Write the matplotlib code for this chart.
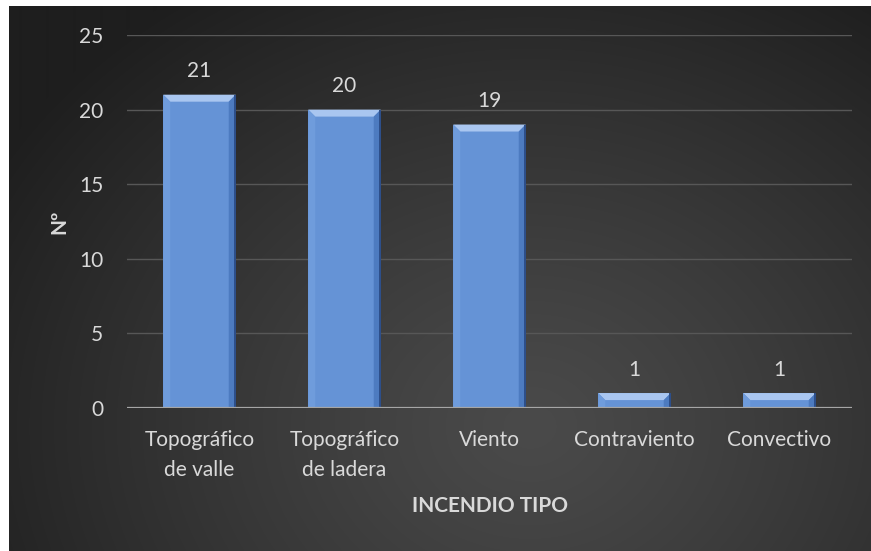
import numpy as np
import matplotlib
matplotlib.use("Agg")
import matplotlib.pyplot as plt
from matplotlib.patches import Polygon

categories = ["Topográfico\nde valle", "Topográfico\nde ladera", "Viento", "Contraviento", "Convectivo"]
counts = [21, 20, 19, 1, 1]
y_ticks = [0, 5, 10, 15, 20, 25]

W, H = 871, 551
fig = plt.figure(figsize=(W / 100, H / 100), dpi=100)
fig.patch.set_facecolor("white")
plt.rcParams["font.family"] = ["Lato", "DejaVu Sans"]
TXT = "#d9d9d9"
FS = 15

# dark panel with a soft radial glow
bg = fig.add_axes([9 / W, 0, 1 - 9 / W, 1 - 6 / H])
bg.set_axis_off()
yy, xx = np.mgrid[0:545, 0:862]
cx, cy = 520, 420
r = np.sqrt(((xx - cx) / 620) ** 2 + ((yy - cy) / 520) ** 2)
t = np.clip(r, 0, 1)
c_in, c_out = 0x4a / 255, 0x1e / 255
val = c_in + (c_out - c_in) * t ** 1.2
img = np.dstack([val, val, val])
bg.imshow(img, aspect="auto", extent=[0, 1, 0, 1], origin="upper", interpolation="bilinear")
bg.set_xlim(0, 1)
bg.set_ylim(0, 1)

# chart axes
ax_l, ax_t, ax_r, ax_b = 127, 35, 852, 408
ax = fig.add_axes([ax_l / W, 1 - ax_b / H, (ax_r - ax_l) / W, (ax_b - ax_t) / H])
ax.set_facecolor("none")
x = np.arange(len(categories))
ax.set_xlim(-0.5, len(categories) - 0.5)
ax.set_ylim(0, 25)

for v in y_ticks[1:]:
    ax.axhline(v, color="#575757", lw=1.0, zorder=0)
ax.axhline(0, color="#a6a6a6", lw=1.6, zorder=3)

bars = ax.bar(x, counts, width=0.5, color="#6593d6", edgecolor="none", zorder=2)

# bevelled edges on each bar, sized in pixels
to_data = ax.transData.inverted()
for b in bars:
    x0, y0 = b.get_x(), b.get_y()
    x1, y1 = x0 + b.get_width(), y0 + b.get_height()
    (px0, py0) = ax.transData.transform((x0, y0))
    (px1, py1) = ax.transData.transform((x1, y1))
    bw = 7
    bh = min(7, (py1 - py0) / 2)

    def poly(pts, color):
        d = to_data.transform(pts)
        ax.add_patch(Polygon(d, closed=True, facecolor=color, edgecolor="none", zorder=2.5))

    # top bevel
    poly([(px0, py1), (px1, py1), (px1 - bw, py1 - bh), (px0 + bw, py1 - bh)], "#a9c6f0")
    # left bevel
    poly([(px0, py1), (px0 + bw, py1 - bh), (px0 + bw, py0), (px0, py0)], "#6f9cdc")
    # right bevel
    poly([(px1, py1), (px1 - bw, py1 - bh), (px1 - bw, py0), (px1, py0)], "#4d7bc0")
    # thin dark outline on the right side
    poly([(px1 - 1.5, py1), (px1, py1), (px1, py0), (px1 - 1.5, py0)], "#2d4f8a")

for xi, v in zip(x, counts):
    ax.annotate(str(v), (xi, v), xytext=(0, 12.5), textcoords="offset points",
                ha="center", va="baseline", color=TXT, fontsize=FS)

ax.set_yticks(y_ticks)
ax.set_yticklabels([str(v) for v in y_ticks], color=TXT, fontsize=FS)
ax.set_xticks(x)
ax.set_xticklabels(categories, color=TXT, fontsize=FS, linespacing=1.6)
ax.tick_params(axis="both", length=0)
ax.tick_params(axis="y", pad=17)
ax.tick_params(axis="x", pad=16)
for s in ax.spines.values():
    s.set_visible(False)

ax.set_ylabel("Nº", color=TXT, fontsize=FS, fontweight="bold")
ax.yaxis.set_label_coords((69 - ax_l) / (ax_r - ax_l), 0.5)
ax.set_xlabel("INCENDIO TIPO", color=TXT, fontsize=FS, fontweight="bold")
ax.xaxis.set_label_coords(0.5, (ax_b - 496) / (ax_b - ax_t))

fig.savefig("out.png", dpi=100, facecolor=fig.get_facecolor())
